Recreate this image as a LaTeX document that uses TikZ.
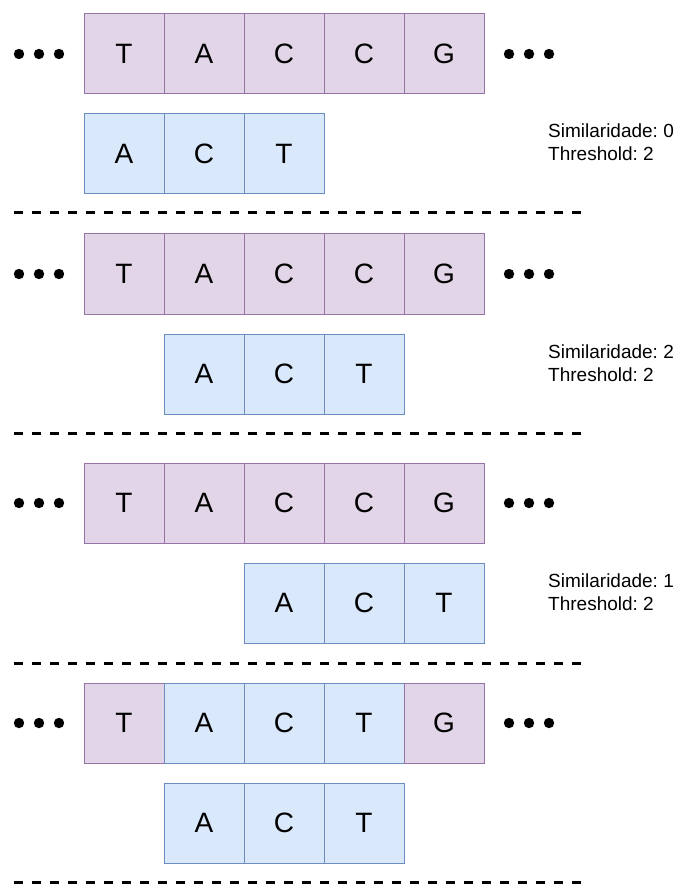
\documentclass[tikz,border=0pt]{standalone}
\usepackage{fontspec}
\setmainfont{Liberation Sans}
\frenchspacing
\definecolor{pfill}{HTML}{E1D5E7}
\definecolor{pdraw}{HTML}{9673A6}
\definecolor{bfill}{HTML}{DAE8FC}
\definecolor{bdraw}{HTML}{6C8EBF}
\begin{document}
\begin{tikzpicture}[x=1pt,y=-1pt,
  cell/.style={rectangle,minimum width=80pt,minimum height=80pt,inner sep=0pt,line width=1pt,font=\fontsize{28}{32}\selectfont},
  pcell/.style={cell,fill=pfill,draw=pdraw},
  bcell/.style={cell,fill=bfill,draw=bdraw},
  info/.style={anchor=base west,inner sep=0pt,font=\fontsize{19}{23}\selectfont\frenchspacing},
  sep/.style={line width=3pt,dash pattern=on 9pt off 9pt},
  dot/.style={fill=black}]
\useasboundingbox (0,0) rectangle (683,885);
% rows: top y values
\foreach \r/\y in {1/14,2/234,3/463,4/683}{
  \fill[dot] (19,\y+40) circle (5.2);
  \fill[dot] (39,\y+40) circle (5.2);
  \fill[dot] (59,\y+40) circle (5.2);
  \fill[dot] (509,\y+40) circle (5.2);
  \fill[dot] (529,\y+40) circle (5.2);
  \fill[dot] (549,\y+40) circle (5.2);
}
% row 1
\node[pcell] (a1) at (124,54) {T};
\node[pcell] (a2) at (204,54) {A};
\node[pcell] (a3) at (284,54) {C};
\node[pcell] (a4) at (364,54) {C};
\node[pcell] (a5) at (444,54) {G};
\node[bcell] (p1) at (124,154) {A};
\node[bcell] (p2) at (204,154) {C};
\node[bcell] (p3) at (284,154) {T};
\node[info] (s1) at (548,138) {Similaridade: 0};
\node[info] (t1) at (548,161) {Threshold: 2};
\coordinate (d1a) at (14,213); \coordinate (d1b) at (583,213);
\draw[sep] (d1a) -- (d1b);
% row 2
\node[pcell] (b1) at (124,274) {T};
\node[pcell] (b2) at (204,274) {A};
\node[pcell] (b3) at (284,274) {C};
\node[pcell] (b4) at (364,274) {C};
\node[pcell] (b5) at (444,274) {G};
\node[bcell] (q1) at (204,374) {A};
\node[bcell] (q2) at (284,374) {C};
\node[bcell] (q3) at (364,374) {T};
\node[info] (s2) at (548,358) {Similaridade: 2};
\node[info] (t2) at (548,381) {Threshold: 2};
\coordinate (d2a) at (14,433); \coordinate (d2b) at (583,433);
\draw[sep] (d2a) -- (d2b);
% row 3
\node[pcell] (c1) at (124,503) {T};
\node[pcell] (c2) at (204,503) {A};
\node[pcell] (c3) at (284,503) {C};
\node[pcell] (c4) at (364,503) {C};
\node[pcell] (c5) at (444,503) {G};
\node[bcell] (u1) at (284,603) {A};
\node[bcell] (u2) at (364,603) {C};
\node[bcell] (u3) at (444,603) {T};
\node[info] (s3) at (548,587) {Similaridade: 1};
\node[info] (t3) at (548,610) {Threshold: 2};
\coordinate (d3a) at (14,663); \coordinate (d3b) at (583,663);
\draw[sep] (d3a) -- (d3b);
% row 4
\node[pcell] (e1) at (124,723) {T};
\node[bcell] (e2) at (204,723) {A};
\node[bcell] (e3) at (284,723) {C};
\node[bcell] (e4) at (364,723) {T};
\node[pcell] (e5) at (444,723) {G};
\node[bcell] (v1) at (204,823) {A};
\node[bcell] (v2) at (284,823) {C};
\node[bcell] (v3) at (364,823) {T};
\coordinate (d4a) at (14,882); \coordinate (d4b) at (583,882);
\draw[sep] (d4a) -- (d4b);
\end{tikzpicture}
\end{document}
